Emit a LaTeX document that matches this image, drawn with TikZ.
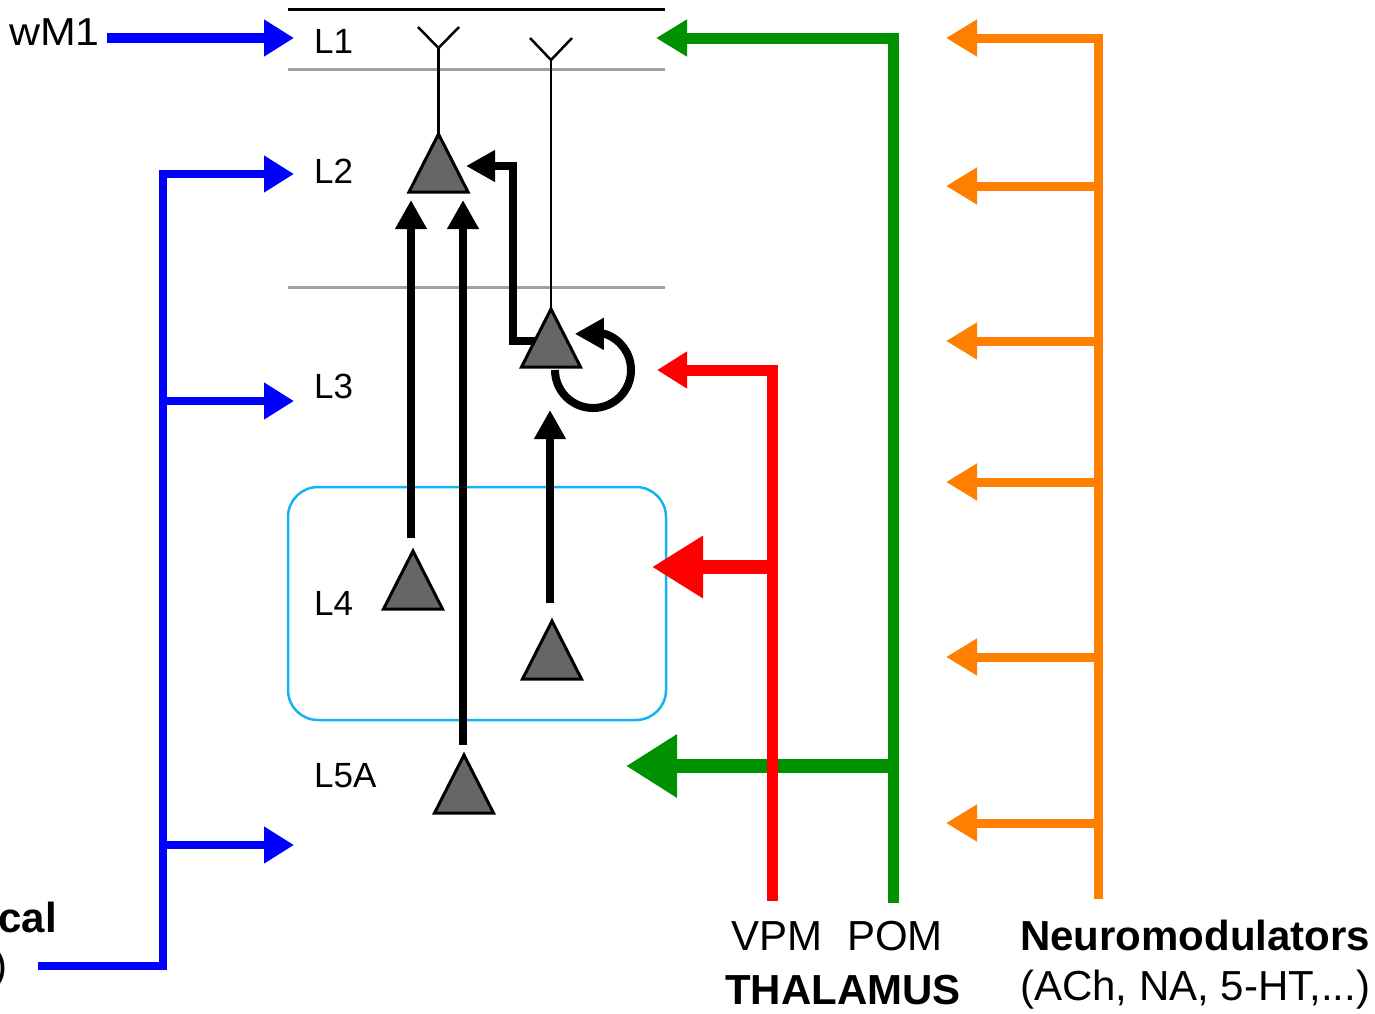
\documentclass[tikz,border=0pt]{standalone}
\usepackage{fontspec}
\setmainfont{Liberation Sans}
\usetikzlibrary{arrows.meta,calc}
\definecolor{cblue}{RGB}{0,0,255}
\definecolor{cred}{RGB}{255,0,0}
\definecolor{cgreen}{RGB}{0,145,0}
\definecolor{corange}{RGB}{255,127,0}
\definecolor{cbox}{RGB}{20,180,240}
\definecolor{cgray}{RGB}{160,160,160}
\definecolor{cfill}{RGB}{102,102,102}
\begin{document}
\begin{tikzpicture}[x=1pt,y=-1pt,
  lbl/.style={font=\fontsize{35}{40}\selectfont, inner sep=0pt},
  big/.style={font=\fontsize{42}{46}\selectfont, inner sep=0pt},
  bigb/.style={font=\fontsize{42}{46}\selectfont\bfseries, inner sep=0pt},
  layerline/.style={draw=cgray, line width=3pt},
  topline/.style={draw=black, line width=3pt},
  dend/.style={draw=black, line width=2.5pt},
  neuron/.style={draw=black, fill=cfill, line width=3pt, line join=miter},
  excit/.style={draw=black, line width=8pt, -{Triangle[length=29pt,width=30pt]}},
  bluearr/.style={draw=cblue, line width=8pt, -{Triangle[length=30pt,width=35pt]}},
  redarr/.style={draw=cred, line width=11pt, -{Triangle[length=30pt,width=35pt]}},
  redbig/.style={draw=cred, line width=14pt, -{Triangle[length=51pt,width=59pt]}},
  greenarr/.style={draw=cgreen, line width=11pt, -{Triangle[length=31pt,width=35pt]}},
  greenbig/.style={draw=cgreen, line width=14pt, -{Triangle[length=51pt,width=60pt]}},
  orarr/.style={draw=corange, line width=9pt, -{Triangle[length=31pt,width=35pt]}}
]
\useasboundingbox (0,0) rectangle (1375,1013);

% neuron positions
\coordinate (n2) at (438.5,163);
\coordinate (n3) at (551,338);
\coordinate (n4a) at (413,580);
\coordinate (n4b) at (552,650);
\coordinate (n5) at (464,784);

% layers
\draw[topline] (288,9) -- (665,9);
\draw[layerline] (288,69) -- (665,69);
\draw[layerline] (288,287) -- (665,287);
\draw[draw=cbox, line width=2.5pt, rounded corners=30pt] (288,487) rectangle (666,720);

% dendrites
\draw[dend] ($(n2)+(0,-29)$) -- ($(n2)+(0,-115)$) coordinate (f2);
\draw[dend] ($(f2)+(-20.5,-21)$) -- (f2) -- ($(f2)+(20.5,-21)$);
\draw[dend] ($(n3)+(0,-29)$) -- ($(n3)+(0,-278)$) coordinate (f3);
\draw[dend] ($(f3)+(-21,-22)$) -- (f3) -- ($(f3)+(21,-22)$);

% intracortical excitatory connections
\draw[excit] ($(n4a)+(-2,-42)$) -- ($(n2)+(-27.5,37)$);
\draw[excit] ($(n5)+(-1,-39)$) -- ($(n2)+(24.5,37)$);
\draw[excit] ($(n4b)+(-2,-47)$) -- ($(n3)+(-1,72)$);
\draw[excit] ($(n3)+(-10,3)$) -| ($(n2)+(74.5,3)$) -- ($(n2)+(27.5,3)$);
\draw[excit] ($(n3)+(4,32)$) arc[start angle=180,end angle=-72,radius=38] -- ++(-30,0);

% neurons
\foreach \n in {n2,n3,n4a,n4b,n5}
  \draw[neuron] ($(\n)+(0,-29)$) -- ($(\n)+(29.5,29)$) -- ($(\n)+(-29.5,29)$) -- cycle;

% labels
\node[lbl, anchor=base west] (tL1) at (314,53) {L1};
\node[lbl, anchor=base west] (tL2) at (314,183) {L2};
\node[lbl, anchor=base west] (tL3) at (314,398) {L3};
\node[lbl, anchor=base west] (tL4) at (314,615) {L4};
\node[lbl, anchor=base west] (tL5) at (314,787) {L5A};
\node[anchor=base west, inner sep=0pt, font=\fontsize{39}{44}\selectfont] (wm1) at (9,45) {\scalebox{1.1}[1]{wM1}};
\node[bigb, anchor=base east] (cal) at (57,932) {cal};
\node[big, anchor=base east] (par) at (8,979) {)};
\node[big, anchor=base west] (vpm) at (731,950) {VPM};
\node[big, anchor=base west] (pom) at (847,950) {POM};
\node[bigb, anchor=base west] (thal) at (725,1004) {THALAMUS};
\node[bigb, anchor=base west] (neuro) at (1020,950) {Neuromodulators};
\node[big, anchor=base west] (ach) at (1020,1000) {(ACh, NA, 5-HT,...)};

% blue inputs
\coordinate (wm1s) at (107,38);
\coordinate (inL1) at (294,38);
\draw[bluearr, line width=10pt] (wm1s) -- (inL1);
\coordinate (cortsrc) at (38,966);
\coordinate (jL2) at (163,174);
\coordinate (jL3) at (163,401);
\coordinate (jL5) at (163,845);
\coordinate (inL2) at (294,174);
\coordinate (inL3) at (294,401);
\coordinate (inL5) at (294,845);
\draw[bluearr] (cortsrc) -| (jL2) -- (inL2);
\draw[bluearr] (jL3) -- (inL3);
\draw[bluearr] (jL5) -- (inL5);

% thalamus POM
\coordinate (pomsrc) at (893,903);
\coordinate (pomL1) at (656,38);
\coordinate (pomj) at (898,766);
\coordinate (pomL5) at (626,766);
\draw[greenarr] (pomsrc) |- (pomL1);
\draw[greenbig] (pomj) -- (pomL5);

% thalamus VPM
\coordinate (vpmsrc) at (772,901);
\coordinate (vpmL3) at (657,370);
\coordinate (vpmj) at (777,567);
\coordinate (vpmL4) at (652,567);
\draw[redarr] (vpmsrc) |- (vpmL3);
\draw[redbig] (vpmj) -- (vpmL4);

% neuromodulators
\coordinate (nmsrc) at (1098,899);
\draw[orarr] (nmsrc) |- (946,38);
\foreach \yy/\nm in {186/a,341/b,482/c,657/d,823/e} {
  \coordinate (nm\nm) at (1102.5,\yy);
  \coordinate (nmt\nm) at (946,\yy);
  \draw[orarr] (nm\nm) -- (nmt\nm);
}
\end{tikzpicture}
\end{document}
